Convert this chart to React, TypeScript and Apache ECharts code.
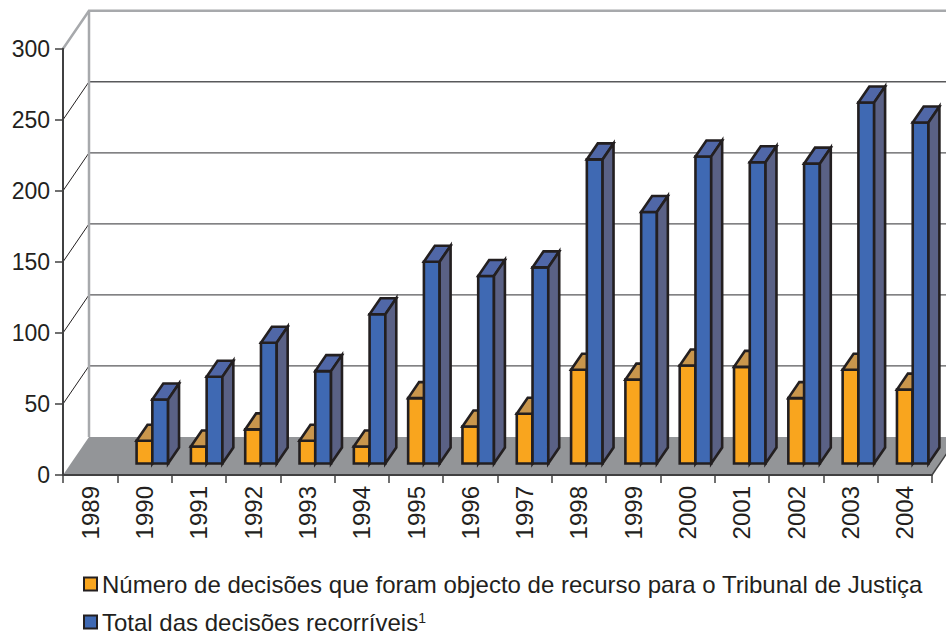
import React, { useEffect, useRef } from "react";
import * as echarts from "echarts";

const years = ["1989", "1990", "1991", "1992", "1993", "1994", "1995", "1996", "1997", "1998", "1999", "2000", "2001", "2002", "2003", "2004"];
const decisoesRecurso: (number | null)[] = [null, 16, 12, 24, 16, 12, 46, 26, 35, 66, 59, 69, 68, 46, 66, 52];
const totalRecorriveis: (number | null)[] = [null, 45, 61, 85, 65, 105, 142, 132, 138, 214, 177, 216, 212, 211, 254, 240];
const yTicks = [0, 50, 100, 150, 200, 250, 300];

const NAME_A = "Número de decisões que foram objecto de recurso para o Tribunal de Justiça";
const NAME_B = "Total das decisões recorríveis";

const FONT = "'Liberation Sans', Arial, Helvetica, sans-serif";
const DEPTH_X = 26;
const DEPTH_Y = -38;
const FRONT_F = 11.5 / 38;
const BAR_F = 16 / 38;
const BAR_W = 0.29;
const OUTLINE = "#231f20";

const toData = (vals: (number | null)[]) =>
  vals.map((v, i) => (v == null ? null : [i, v])).filter((d) => d !== null) as number[][];

function barRenderer(side: 0 | 1, front: string, top: string, sideCol: string) {
  return (params: any, api: any) => {
    const i = api.value(0);
    const v = api.value(1);
    const base = api.coord([i, 0]);
    const tp = api.coord([i, v]);
    const band = api.size([1, 0])[0];
    const w = band * BAR_W;
    const fx = DEPTH_X * FRONT_F;
    const fy = DEPTH_Y * FRONT_F;
    const bx = DEPTH_X * BAR_F;
    const by = DEPTH_Y * BAR_F;
    const cx = base[0] + fx;
    const x0 = side === 0 ? cx - w : cx;
    const x1 = x0 + w;
    const yb = base[1] + fy;
    const yt = tp[1] + fy;
    const st = (fill: string) => ({ fill, stroke: OUTLINE, lineWidth: 2.6, lineJoin: "miter" });
    return {
      type: "group",
      children: [
        { type: "polygon", shape: { points: [[x0, yb], [x1, yb], [x1, yt], [x0, yt]] }, style: st(front) },
        { type: "polygon", shape: { points: [[x0, yt], [x1, yt], [x1 + bx, yt + by], [x0 + bx, yt + by]] }, style: st(top) },
        { type: "polygon", shape: { points: [[x1, yb], [x1 + bx, yb + by], [x1 + bx, yt + by], [x1, yt]] }, style: st(sideCol) },
      ],
    };
  };
}

function wallRenderer(params: any, api: any) {
  const cs = params.coordSys;
  const x0 = cs.x;
  const x1 = cs.x + cs.width;
  const y0 = api.coord([0, 0])[1];
  const yTop = api.coord([0, yTicks[yTicks.length - 1]])[1];
  const children: any[] = [];
  children.push({
    type: "polygon",
    shape: { points: [[x0, y0], [x1, y0], [x1 + DEPTH_X, y0 + DEPTH_Y], [x0 + DEPTH_X, y0 + DEPTH_Y]] },
    style: { fill: "#939598" },
  });
  yTicks.forEach((v) => {
    if (v === 0 || v === yTicks[yTicks.length - 1]) return;
    const yv = api.coord([0, v])[1];
    children.push({
      type: "line",
      shape: { x1: x0 + DEPTH_X, y1: yv + DEPTH_Y, x2: x1 + DEPTH_X + 40, y2: yv + DEPTH_Y },
      style: { stroke: "#58595b", lineWidth: 1.3 },
    });
    children.push({
      type: "line",
      shape: { x1: x0, y1: yv, x2: x0 + DEPTH_X, y2: yv + DEPTH_Y },
      style: { stroke: "#231f20", lineWidth: 1 },
    });
  });
  children.push({
    type: "line",
    shape: { x1: x0 + DEPTH_X, y1: y0 + DEPTH_Y, x2: x0 + DEPTH_X, y2: yTop + DEPTH_Y },
    style: { stroke: "#a7a9ac", lineWidth: 2.5 },
  });
  children.push({
    type: "polyline",
    shape: { points: [[x0, yTop], [x0 + DEPTH_X, yTop + DEPTH_Y], [x1 + DEPTH_X + 40, yTop + DEPTH_Y]] },
    style: { stroke: "#a7a9ac", lineWidth: 2.5, fill: null },
  });
  children.push({
    type: "line",
    shape: { x1: x1, y1: y0, x2: x1 + DEPTH_X, y2: y0 + DEPTH_Y },
    style: { stroke: "#404041", lineWidth: 1.5 },
  });
  return { type: "group", children };
}

const legendBase = {
  orient: "vertical",
  left: 83,
  itemWidth: 13,
  itemHeight: 13,
  icon: "rect",
  selectedMode: false,
  padding: 0,
  itemStyle: { borderColor: OUTLINE, borderWidth: 2 },
  textStyle: {
    fontSize: 24,
    color: OUTLINE,
    fontFamily: FONT,
    lineHeight: 22,
    rich: {
      t: { fontSize: 24, color: OUTLINE, fontFamily: FONT, lineHeight: 22 },
      s: { fontSize: 14, color: OUTLINE, fontFamily: FONT, lineHeight: 12, verticalAlign: "top" },
    },
  },
  formatter: (name: string) => (name === NAME_B ? `{t|${name}}{s|1}` : name),
};

export default function App() {
  const ref = useRef<HTMLDivElement>(null);
  useEffect(() => {
    document.body.style.margin = "0";
    if (!ref.current) return;
    const chart = echarts.init(ref.current, null, { renderer: "svg" });
    chart.setOption({
      animation: false,
      backgroundColor: "#ffffff",
      grid: { left: 63, right: 14, top: 48.7, bottom: 161, containLabel: false },
      xAxis: {
        type: "category",
        data: years,
        boundaryGap: true,
        z: 10,
        axisLine: { show: true, lineStyle: { color: "#404041", width: 2 } },
        axisTick: { show: true, length: 8, alignWithLabel: false, lineStyle: { color: "#404041", width: 1.5 } },
        axisLabel: { rotate: 90, fontSize: 24, color: OUTLINE, margin: 11, fontFamily: FONT, interval: 0 },
        splitLine: { show: false },
      },
      yAxis: {
        type: "value",
        min: 0,
        max: 300,
        interval: 50,
        z: 10,
        axisLine: { show: true, lineStyle: { color: "#404041", width: 2 } },
        axisTick: { show: true, length: 8, lineStyle: { color: "#404041", width: 1.5 } },
        axisLabel: { fontSize: 23, color: OUTLINE, margin: 13, fontFamily: FONT },
        splitLine: { show: false },
      },
      legend: [
        { ...legendBase, top: 572, data: [NAME_A] },
        { ...legendBase, top: 610, data: [NAME_B] },
      ],
      series: [
        {
          type: "custom",
          name: "walls",
          z: 1,
          clip: false,
          silent: true,
          renderItem: wallRenderer,
          data: [[0, 0]],
        },
        {
          type: "custom",
          name: NAME_A,
          z: 2,
          clip: false,
          itemStyle: { color: "#f9a51e" },
          renderItem: barRenderer(0, "#f9a51e", "#c9964c", "#c9964c"),
          data: toData(decisoesRecurso),
        },
        {
          type: "custom",
          name: NAME_B,
          z: 3,
          clip: false,
          itemStyle: { color: "#3f69b3" },
          renderItem: barRenderer(1, "#3f69b3", "#5067a7", "#5a6185"),
          data: toData(totalRecorriveis),
        },
      ],
    });
    return () => chart.dispose();
  }, []);
  return <div ref={ref} style={{ width: 946, height: 636 }} />;
}
